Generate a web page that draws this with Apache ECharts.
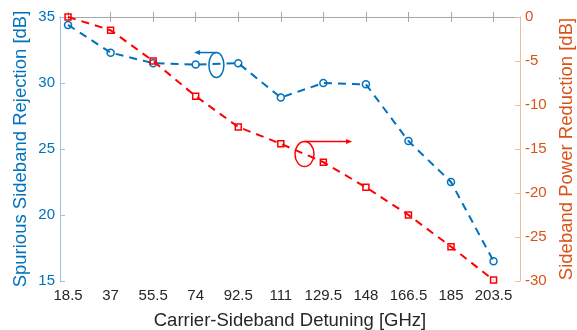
<!DOCTYPE html>
<html>
<head>
<meta charset="utf-8">
<script src="https://cdn.jsdelivr.net/npm/echarts@6/dist/echarts.min.js"></script>
<style>html,body{margin:0;padding:0;background:#fff}#c{width:577px;height:330px}</style>
</head>
<body>
<div id="c"></div>
<script>
const detuning = [18.5, 37, 55.5, 74, 92.5, 111, 129.5, 148, 166.5, 185, 203.5];
const rejection = [34.4, 32.3, 31.5, 31.4, 31.5, 28.9, 30.0, 29.9, 25.6, 22.5, 16.5];
const powerReduction = [0, -1.5, -5.0, -9.0, -12.5, -14.4, -16.5, -19.35, -22.5, -26.1, -29.9];
const leftTicks = [15, 20, 25, 30, 35];
const rightTicks = [-30, -25, -20, -15, -10, -5, 0];

const BLUE = '#0072BD', RED = '#FF0000', ORANGE = '#D95319';
const FONT = 'Liberation Sans, Arial, sans-serif';

const chart = echarts.init(document.getElementById('c'), null, {renderer: 'canvas'});
const xAxisBase = {
  type: 'value', min: 15, max: 215,
  splitLine: {show: false},
};
chart.setOption({
  animation: false,
  grid: {left: 60, right: 57, top: 17, bottom: 49, containLabel: false, outerBoundsMode: 'none'},
  xAxis: [
    Object.assign({}, xAxisBase, {
      position: 'bottom',
      name: 'Carrier-Sideband Detuning [GHz]',
      nameLocation: 'middle', nameGap: 30, nameMoveOverlap: false,
      nameTextStyle: {color: '#262626', fontSize: 18.5, fontFamily: FONT},
      axisLine: {lineStyle: {color: '#A8A8A8', width: 1}},
      axisTick: {inside: true, length: 5, customValues: detuning, lineStyle: {color: '#A8A8A8'}},
      axisLabel: {customValues: detuning, color: '#262626', fontSize: 15, fontFamily: FONT, margin: 7, formatter: v => String(v)},
    }),
    Object.assign({}, xAxisBase, {
      position: 'top',
      axisLine: {lineStyle: {color: '#A8A8A8', width: 1}},
      axisTick: {inside: true, length: 5, customValues: detuning, lineStyle: {color: '#A8A8A8'}},
      axisLabel: {show: false},
    })
  ],
  yAxis: [
    {
      type: 'value', min: 15, max: 35, interval: 5, position: 'left',
      name: 'Spurious Sideband Rejection [dB]',
      nameLocation: 'middle', nameGap: 30, nameMoveOverlap: false,
      nameTextStyle: {color: BLUE, fontSize: 18.5, fontFamily: FONT},
      axisLine: {show: true, lineStyle: {color: '#9CC3E2'}},
      axisTick: {show: true, inside: true, length: 5, lineStyle: {color: '#9CC3E2'}},
      axisLabel: {color: BLUE, fontSize: 15, fontFamily: FONT, margin: 5},
      splitLine: {show: false},
    },
    {
      type: 'value', min: -30, max: 0, interval: 5, position: 'right',
      name: 'Sideband Power Reduction [dB]',
      nameLocation: 'middle', nameGap: 37, nameRotate: 90, nameMoveOverlap: false,
      nameTextStyle: {color: ORANGE, fontSize: 18.5, fontFamily: FONT},
      axisLine: {show: true, lineStyle: {color: '#EDBBA0'}},
      axisTick: {show: true, inside: true, length: 5, lineStyle: {color: '#EDBBA0'}},
      axisLabel: {color: ORANGE, fontSize: 15, fontFamily: FONT, margin: 5},
      splitLine: {show: false},
    }
  ],
  series: [
    {
      type: 'line', xAxisIndex: 0, yAxisIndex: 0,
      data: detuning.map((x, i) => [x, rejection[i]]),
      symbol: 'circle', symbolSize: 7,
      lineStyle: {color: BLUE, width: 2, type: [8, 6]},
      itemStyle: {color: 'rgba(0,0,0,0)', borderColor: BLUE, borderWidth: 1.5},
      z: 3,
    },
    {
      type: 'line', xAxisIndex: 0, yAxisIndex: 1,
      data: detuning.map((x, i) => [x, powerReduction[i]]),
      symbol: 'rect', symbolSize: 6,
      lineStyle: {color: RED, width: 2, type: [8, 6]},
      itemStyle: {color: 'rgba(0,0,0,0)', borderColor: RED, borderWidth: 1.5},
      z: 4,
    }
  ]
});

// Annotations placed in data coordinates
function px(x, y, yi) {
  return chart.convertToPixel({xAxisIndex: 0, yAxisIndex: yi}, [x, y]);
}
const blueC = px(83, 31.36, 0);
const blueTip = px(73.3, 32.3, 0);
const redC = px(121.3, -15.57, 1);
const redTip = px(142, -14.06, 1);
const blueTop = blueC[1] - 12.5;
const redTop = redC[1] - 12.5;
chart.setOption({
  graphic: [
    {type: 'ellipse', shape: {cx: blueC[0], cy: blueC[1], rx: 7.5, ry: 12.5}, style: {fill: 'none', stroke: BLUE, lineWidth: 1.5}, z: 10},
    {type: 'line', shape: {x1: blueC[0], y1: blueTop, x2: blueTip[0] + 4, y2: blueTop}, style: {stroke: BLUE, lineWidth: 1.5}, z: 10},
    {type: 'polygon', shape: {points: [[blueTip[0], blueTop], [blueTip[0] + 6, blueTop - 2.5], [blueTip[0] + 6, blueTop + 2.5]]}, style: {fill: BLUE}, z: 10},
    {type: 'ellipse', shape: {cx: redC[0], cy: redC[1], rx: 9.5, ry: 12.5}, style: {fill: 'none', stroke: RED, lineWidth: 1.5}, z: 10},
    {type: 'line', shape: {x1: redC[0], y1: redTop, x2: redTip[0] - 4, y2: redTop}, style: {stroke: RED, lineWidth: 1.5}, z: 10},
    {type: 'polygon', shape: {points: [[redTip[0], redTop], [redTip[0] - 6, redTop - 2.5], [redTip[0] - 6, redTop + 2.5]]}, style: {fill: RED}, z: 10}
  ]
});
</script>
</body>
</html>
